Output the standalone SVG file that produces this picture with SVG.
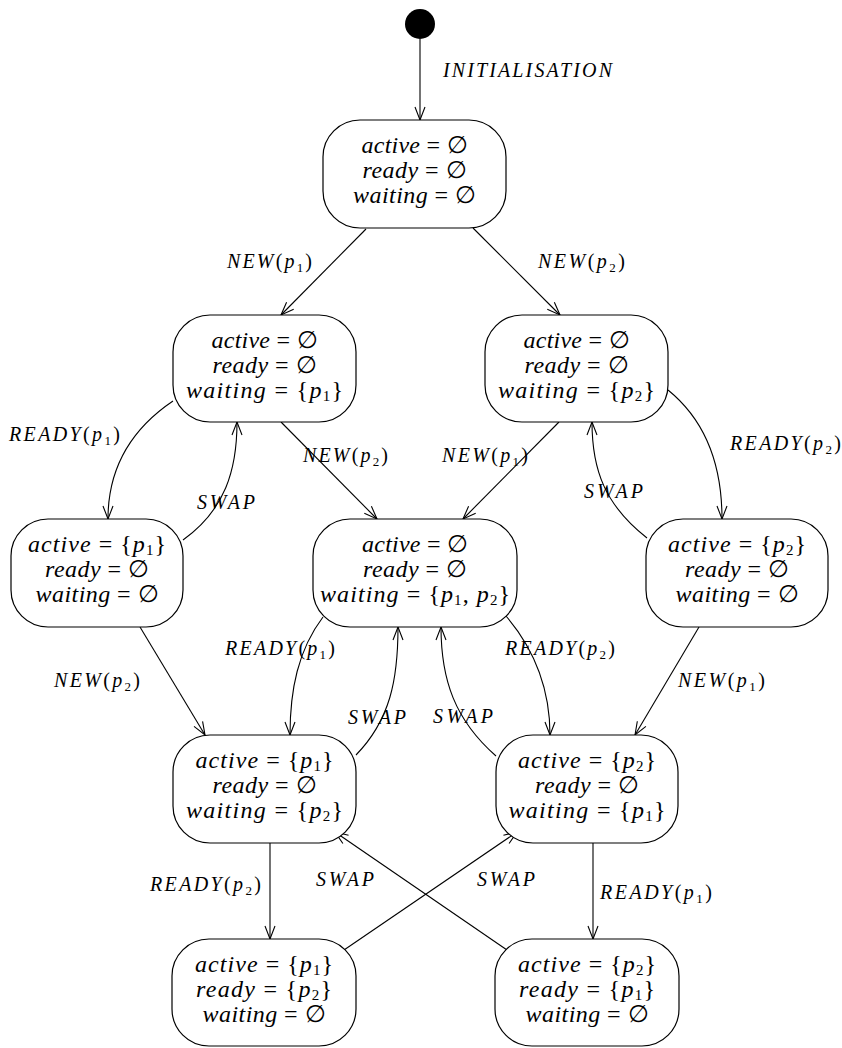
<svg xmlns="http://www.w3.org/2000/svg" width="842" height="1048" viewBox="0 0 842 1048">
<style>
.box{fill:#fff;stroke:#000;stroke-width:1.2}
.n{font-family:"Liberation Serif","DejaVu Serif",serif;font-style:italic;font-size:24px;text-anchor:middle;fill:#000}
.l{font-family:"Liberation Serif","DejaVu Serif",serif;font-style:italic;font-size:20px;fill:#000}
.r{font-style:normal}
.s{font-style:normal;font-size:15px}
.s2{font-style:normal;font-size:13px}
.e{fill:none;stroke:#000;stroke-width:1.1}
</style>
<defs>
<marker id="ah" markerUnits="userSpaceOnUse" markerWidth="16" markerHeight="12" refX="14" refY="6" orient="auto">
<path d="M1,1 L14,6 L1,11" fill="none" stroke="#000" stroke-width="1.1"/>
</marker>
</defs>

<g id="connectors">
<line class="e" x1="420" y1="39" x2="420" y2="120" marker-end="url(#ah)"/>
<line class="e" x1="366" y1="229" x2="281" y2="315" marker-end="url(#ah)"/>
<line class="e" x1="473" y1="228" x2="560" y2="315" marker-end="url(#ah)"/>
<path class="e" d="M173,401 C130,430 108,470 108,519" marker-end="url(#ah)"/>
<path class="e" d="M183,540 C225,510 237,470 237,422" marker-end="url(#ah)"/>
<line class="e" x1="281" y1="422" x2="377" y2="519" marker-end="url(#ah)"/>
<line class="e" x1="559" y1="422" x2="463" y2="519" marker-end="url(#ah)"/>
<path class="e" d="M668,390 C705,420 722,465 722,519" marker-end="url(#ah)"/>
<path class="e" d="M647,538 C605,505 592,470 592,422" marker-end="url(#ah)"/>
<line class="e" x1="140" y1="627" x2="205" y2="735" marker-end="url(#ah)"/>
<path class="e" d="M323,617 C298,650 290,690 290,735" marker-end="url(#ah)"/>
<path class="e" d="M356,755 C390,720 398,680 398,627" marker-end="url(#ah)"/>
<path class="e" d="M506,616 C535,650 550,690 550,735" marker-end="url(#ah)"/>
<path class="e" d="M496,756 C455,720 441,680 441,627" marker-end="url(#ah)"/>
<line class="e" x1="699" y1="627" x2="635" y2="735" marker-end="url(#ah)"/>
<line class="e" x1="270" y1="843" x2="270" y2="939" marker-end="url(#ah)"/>
<line class="e" x1="593" y1="843" x2="593" y2="939" marker-end="url(#ah)"/>
<line class="e" x1="344" y1="950" x2="517" y2="832" marker-end="url(#ah)"/>
<line class="e" x1="507" y1="950" x2="335" y2="832" marker-end="url(#ah)"/>

<text class="l" x="443" y="77" textLength="169" lengthAdjust="spacing">INITIALISATION</text>
<text class="l" x="227" y="268" textLength="85" lengthAdjust="spacing">NEW<tspan class="r">(</tspan>p<tspan class="s2" dy="4">1</tspan><tspan class="r" dy="-4">)</tspan></text>
<text class="l" x="538" y="268" textLength="87" lengthAdjust="spacing">NEW<tspan class="r">(</tspan>p<tspan class="s2" dy="4">2</tspan><tspan class="r" dy="-4">)</tspan></text>
<text class="l" x="9" y="441" textLength="111" lengthAdjust="spacing">READY<tspan class="r">(</tspan>p<tspan class="s2" dy="4">1</tspan><tspan class="r" dy="-4">)</tspan></text>
<text class="l" x="197" y="509" textLength="58" lengthAdjust="spacing">SWAP</text>
<text class="l" x="303" y="462" textLength="85" lengthAdjust="spacing">NEW<tspan class="r">(</tspan>p<tspan class="s2" dy="4">2</tspan><tspan class="r" dy="-4">)</tspan></text>
<text class="l" x="442" y="462" textLength="86" lengthAdjust="spacing">NEW<tspan class="r">(</tspan>p<tspan class="s2" dy="4">1</tspan><tspan class="r" dy="-4">)</tspan></text>
<text class="l" x="730" y="450" textLength="111" lengthAdjust="spacing">READY<tspan class="r">(</tspan>p<tspan class="s2" dy="4">2</tspan><tspan class="r" dy="-4">)</tspan></text>
<text class="l" x="584" y="498" textLength="59" lengthAdjust="spacing">SWAP</text>
<text class="l" x="54" y="687" textLength="86" lengthAdjust="spacing">NEW<tspan class="r">(</tspan>p<tspan class="s2" dy="4">2</tspan><tspan class="r" dy="-4">)</tspan></text>
<text class="l" x="225" y="655" textLength="110" lengthAdjust="spacing">READY<tspan class="r">(</tspan>p<tspan class="s2" dy="4">1</tspan><tspan class="r" dy="-4">)</tspan></text>
<text class="l" x="348" y="724" textLength="58" lengthAdjust="spacing">SWAP</text>
<text class="l" x="505" y="655" textLength="110" lengthAdjust="spacing">READY<tspan class="r">(</tspan>p<tspan class="s2" dy="4">2</tspan><tspan class="r" dy="-4">)</tspan></text>
<text class="l" x="433" y="723" textLength="60" lengthAdjust="spacing">SWAP</text>
<text class="l" x="678" y="687" textLength="87" lengthAdjust="spacing">NEW<tspan class="r">(</tspan>p<tspan class="s2" dy="4">1</tspan><tspan class="r" dy="-4">)</tspan></text>
<text class="l" x="150" y="891" textLength="111" lengthAdjust="spacing">READY<tspan class="r">(</tspan>p<tspan class="s2" dy="4">2</tspan><tspan class="r" dy="-4">)</tspan></text>
<text class="l" x="600" y="899" textLength="112" lengthAdjust="spacing">READY<tspan class="r">(</tspan>p<tspan class="s2" dy="4">1</tspan><tspan class="r" dy="-4">)</tspan></text>
<text class="l" x="316" y="886" textLength="58" lengthAdjust="spacing">SWAP</text>
<text class="l" x="477" y="886" textLength="58" lengthAdjust="spacing">SWAP</text>
</g>

<g id="init">
<circle cx="420" cy="24" r="15" fill="#000"/>
</g>

<g id="s0">
<rect class="box" x="323" y="120" width="183" height="108" rx="37" ry="37"/>
<text class="n" x="414.5" y="153" textLength="106" lengthAdjust="spacing">active<tspan class="r"> = ∅</tspan></text>
<text class="n" x="414.5" y="178" textLength="104" lengthAdjust="spacing">ready<tspan class="r"> = ∅</tspan></text>
<text class="n" x="414.5" y="203" textLength="123" lengthAdjust="spacing">waiting<tspan class="r"> = ∅</tspan></text>
</g>

<g id="s1">
<rect class="box" x="173" y="315" width="183" height="107" rx="37" ry="37"/>
<text class="n" x="264.5" y="348" textLength="106" lengthAdjust="spacing">active<tspan class="r"> = ∅</tspan></text>
<text class="n" x="264.5" y="373" textLength="104" lengthAdjust="spacing">ready<tspan class="r"> = ∅</tspan></text>
<text class="n" x="264.5" y="398" textLength="157" lengthAdjust="spacing">waiting<tspan class="r"> = {</tspan>p<tspan class="s" dy="3">1</tspan><tspan class="r" dy="-3">}</tspan></text>
</g>

<g id="s2">
<rect class="box" x="485" y="315" width="183" height="107" rx="37" ry="37"/>
<text class="n" x="576.5" y="348" textLength="106" lengthAdjust="spacing">active<tspan class="r"> = ∅</tspan></text>
<text class="n" x="576.5" y="373" textLength="104" lengthAdjust="spacing">ready<tspan class="r"> = ∅</tspan></text>
<text class="n" x="576.5" y="398" textLength="157" lengthAdjust="spacing">waiting<tspan class="r"> = {</tspan>p<tspan class="s" dy="3">2</tspan><tspan class="r" dy="-3">}</tspan></text>
</g>

<g id="s3">
<rect class="box" x="11" y="519" width="172" height="108" rx="37" ry="37"/>
<text class="n" x="97" y="552" textLength="138" lengthAdjust="spacing">active<tspan class="r"> = {</tspan>p<tspan class="s" dy="3">1</tspan><tspan class="r" dy="-3">}</tspan></text>
<text class="n" x="97" y="577" textLength="104" lengthAdjust="spacing">ready<tspan class="r"> = ∅</tspan></text>
<text class="n" x="97" y="602" textLength="123" lengthAdjust="spacing">waiting<tspan class="r"> = ∅</tspan></text>
</g>

<g id="s4">
<rect class="box" x="313" y="519" width="204" height="108" rx="37" ry="37"/>
<text class="n" x="415" y="552" textLength="106" lengthAdjust="spacing">active<tspan class="r"> = ∅</tspan></text>
<text class="n" x="415" y="577" textLength="104" lengthAdjust="spacing">ready<tspan class="r"> = ∅</tspan></text>
<text class="n" x="415" y="602" textLength="190" lengthAdjust="spacing">waiting<tspan class="r"> = {</tspan>p<tspan class="s" dy="3">1</tspan><tspan class="r" dy="-3">, </tspan>p<tspan class="s" dy="3">2</tspan><tspan class="r" dy="-3">}</tspan></text>
</g>

<g id="s5">
<rect class="box" x="646" y="519" width="182" height="108" rx="37" ry="37"/>
<text class="n" x="737" y="552" textLength="138" lengthAdjust="spacing">active<tspan class="r"> = {</tspan>p<tspan class="s" dy="3">2</tspan><tspan class="r" dy="-3">}</tspan></text>
<text class="n" x="737" y="577" textLength="104" lengthAdjust="spacing">ready<tspan class="r"> = ∅</tspan></text>
<text class="n" x="737" y="602" textLength="123" lengthAdjust="spacing">waiting<tspan class="r"> = ∅</tspan></text>
</g>

<g id="s6">
<rect class="box" x="173" y="735" width="183" height="108" rx="37" ry="37"/>
<text class="n" x="264.5" y="768" textLength="138" lengthAdjust="spacing">active<tspan class="r"> = {</tspan>p<tspan class="s" dy="3">1</tspan><tspan class="r" dy="-3">}</tspan></text>
<text class="n" x="264.5" y="793" textLength="104" lengthAdjust="spacing">ready<tspan class="r"> = ∅</tspan></text>
<text class="n" x="264.5" y="818" textLength="157" lengthAdjust="spacing">waiting<tspan class="r"> = {</tspan>p<tspan class="s" dy="3">2</tspan><tspan class="r" dy="-3">}</tspan></text>
</g>

<g id="s7">
<rect class="box" x="496" y="735" width="182" height="108" rx="37" ry="37"/>
<text class="n" x="587" y="768" textLength="138" lengthAdjust="spacing">active<tspan class="r"> = {</tspan>p<tspan class="s" dy="3">2</tspan><tspan class="r" dy="-3">}</tspan></text>
<text class="n" x="587" y="793" textLength="104" lengthAdjust="spacing">ready<tspan class="r"> = ∅</tspan></text>
<text class="n" x="587" y="818" textLength="157" lengthAdjust="spacing">waiting<tspan class="r"> = {</tspan>p<tspan class="s" dy="3">1</tspan><tspan class="r" dy="-3">}</tspan></text>
</g>

<g id="s8">
<rect class="box" x="172" y="939" width="184" height="107" rx="37" ry="37"/>
<text class="n" x="264" y="972" textLength="138" lengthAdjust="spacing">active<tspan class="r"> = {</tspan>p<tspan class="s" dy="3">1</tspan><tspan class="r" dy="-3">}</tspan></text>
<text class="n" x="264" y="997" textLength="136" lengthAdjust="spacing">ready<tspan class="r"> = {</tspan>p<tspan class="s" dy="3">2</tspan><tspan class="r" dy="-3">}</tspan></text>
<text class="n" x="264" y="1022" textLength="123" lengthAdjust="spacing">waiting<tspan class="r"> = ∅</tspan></text>
</g>

<g id="s9">
<rect class="box" x="495" y="939" width="184" height="107" rx="37" ry="37"/>
<text class="n" x="587" y="972" textLength="138" lengthAdjust="spacing">active<tspan class="r"> = {</tspan>p<tspan class="s" dy="3">2</tspan><tspan class="r" dy="-3">}</tspan></text>
<text class="n" x="587" y="997" textLength="136" lengthAdjust="spacing">ready<tspan class="r"> = {</tspan>p<tspan class="s" dy="3">1</tspan><tspan class="r" dy="-3">}</tspan></text>
<text class="n" x="587" y="1022" textLength="123" lengthAdjust="spacing">waiting<tspan class="r"> = ∅</tspan></text>
</g>
</svg>
